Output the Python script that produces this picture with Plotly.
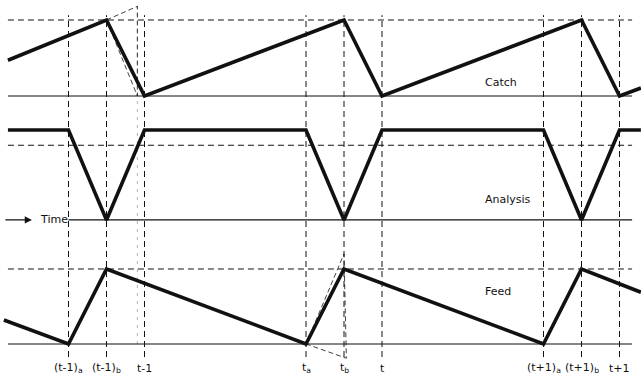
import plotly.graph_objects as go

# event times (one period = 1.0, t = 0)
event_x = [-1.32, -1.16, -1.0, -0.32, -0.16, 0.0, 0.68, 0.84, 1.0]
event_labels = ["(t-1)<sub>a</sub>", "(t-1)<sub>b</sub>", "t-1",
                "t<sub>a</sub>", "t<sub>b</sub>", "t",
                "(t+1)<sub>a</sub>", "(t+1)<sub>b</sub>", "t+1"]

# catch
catch_x = [-1.575, -1.16, -1.0, -0.16, 0.0, 0.84, 1.0, 1.09]
catch_y = [0.47, 1.0, 0.0, 1.0, 0.0, 1.0, 0.0, 0.105]
catch_guide_x = [-1.16, -1.03, -1.03, -1.16]
catch_guide_y = [1.0, 1.18, 0.0, 1.0]

# analysis
analysis_x = [-1.575, -1.32, -1.16, -1.0, -0.32, -0.16, 0.0, 0.68, 0.84, 1.0, 1.09]
analysis_y = [1.0, 1.0, 0.0, 1.0, 1.0, 0.0, 1.0, 1.0, 0.0, 1.0, 1.0]

# feed
feed_x = [-1.592, -1.32, -1.16, -0.32, -0.16, 0.68, 0.84, 1.09]
feed_y = [0.32, 0.0, 1.0, 0.0, 1.0, 0.0, 1.0, 0.69]
feed_guide_x = [-0.32, -0.16, -0.15, -0.32]
feed_guide_y = [0.0, 1.2, -0.19, 0.0]

# reference levels per panel: (dashed level, solid base)
catch_levels = [1.0, 0.0]
analysis_levels = [0.83, 0.0]
feed_levels = [1.0, 0.0]

X0, X1 = -1.575, 1.053
DASH = "6px,4px"
INK = "#111111"

fig = go.Figure()

thick = dict(color=INK, width=3.6)
thin_dash = dict(color=INK, width=1, dash=DASH)

fig.add_trace(go.Scatter(x=catch_x, y=catch_y, mode="lines", line=thick, yaxis="y"))
fig.add_trace(go.Scatter(x=catch_guide_x, y=catch_guide_y, mode="lines",
                         line=dict(color=INK, width=0.8, dash="5px,3px"), yaxis="y"))
fig.add_trace(go.Scatter(x=analysis_x, y=analysis_y, mode="lines", line=thick, yaxis="y2"))
fig.add_trace(go.Scatter(x=feed_x, y=feed_y, mode="lines", line=thick, yaxis="y3"))
fig.add_trace(go.Scatter(x=feed_guide_x, y=feed_guide_y, mode="lines",
                         line=dict(color=INK, width=0.8, dash="5px,3px"), yaxis="y3"))

shapes = []
# vertical dashed event lines
for ex in event_x:
    shapes.append(dict(type="line", xref="x", yref="paper", x0=ex, x1=ex,
                       y0=0.058, y1=0.96, line=thin_dash, layer="below"))
# faint construction vertical near t-1
shapes.append(dict(type="line", xref="x", yref="paper", x0=-1.03, x1=-1.03,
                   y0=0.092, y1=0.984, line=dict(color="#999999", width=0.8, dash="3px,5px"),
                   layer="below"))

for yref, levels in [("y", catch_levels), ("y2", analysis_levels), ("y3", feed_levels)]:
    shapes.append(dict(type="line", xref="x", yref=yref, x0=X0, x1=X1,
                       y0=levels[0], y1=levels[0], line=thin_dash, layer="below"))
    base_start = -1.32 if yref == "y2" else X0
    shapes.append(dict(type="line", xref="x", yref=yref, x0=base_start, x1=X1,
                       y0=levels[1], y1=levels[1], line=dict(color=INK, width=1.2),
                       layer="below"))

annotations = []
for ex, lab in zip(event_x, event_labels):
    annotations.append(dict(x=ex, y=0.029, xref="x", yref="paper", text=lab,
                            showarrow=False, xanchor="center", yanchor="middle",
                            font=dict(size=11, color=INK)))

for name, yref, yv in [("Catch", "y", 0.18), ("Analysis", "y2", 0.23), ("Feed", "y3", 0.70)]:
    annotations.append(dict(x=0.425, y=yv, xref="x", yref=yref, text=name,
                            showarrow=False, xanchor="left", yanchor="middle",
                            font=dict(size=11, color=INK)))

# time arrow
annotations.append(dict(x=-1.474, y=0, xref="x", yref="y2", ax=-28, ay=0,
                        text="", showarrow=True, arrowhead=2, arrowsize=1.2,
                        arrowwidth=1.2, arrowcolor=INK))
annotations.append(dict(x=-1.45, y=0, xref="x", yref="y2", text="Time",
                        showarrow=False, xanchor="left", yanchor="middle",
                        font=dict(size=11, color=INK)))

fig.update_layout(
    width=641, height=379,
    margin=dict(l=0, r=0, t=0, b=0),
    paper_bgcolor="white", plot_bgcolor="white",
    showlegend=False,
    font=dict(family="DejaVu Sans"),
    xaxis=dict(range=[-1.6084, 1.0905], visible=False, fixedrange=True),
    yaxis=dict(range=[-3.724, 1.263], visible=False, domain=[0, 1]),
    yaxis2=dict(range=[-1.767, 2.444], visible=False, overlaying="y"),
    yaxis3=dict(range=[-0.467, 4.587], visible=False, overlaying="y"),
    shapes=shapes,
    annotations=annotations,
)

fig.write_html("out.html", config=dict(displayModeBar=False),
               post_script="document.body.style.margin='0';"
                           "document.body.style.overflow='hidden';")
